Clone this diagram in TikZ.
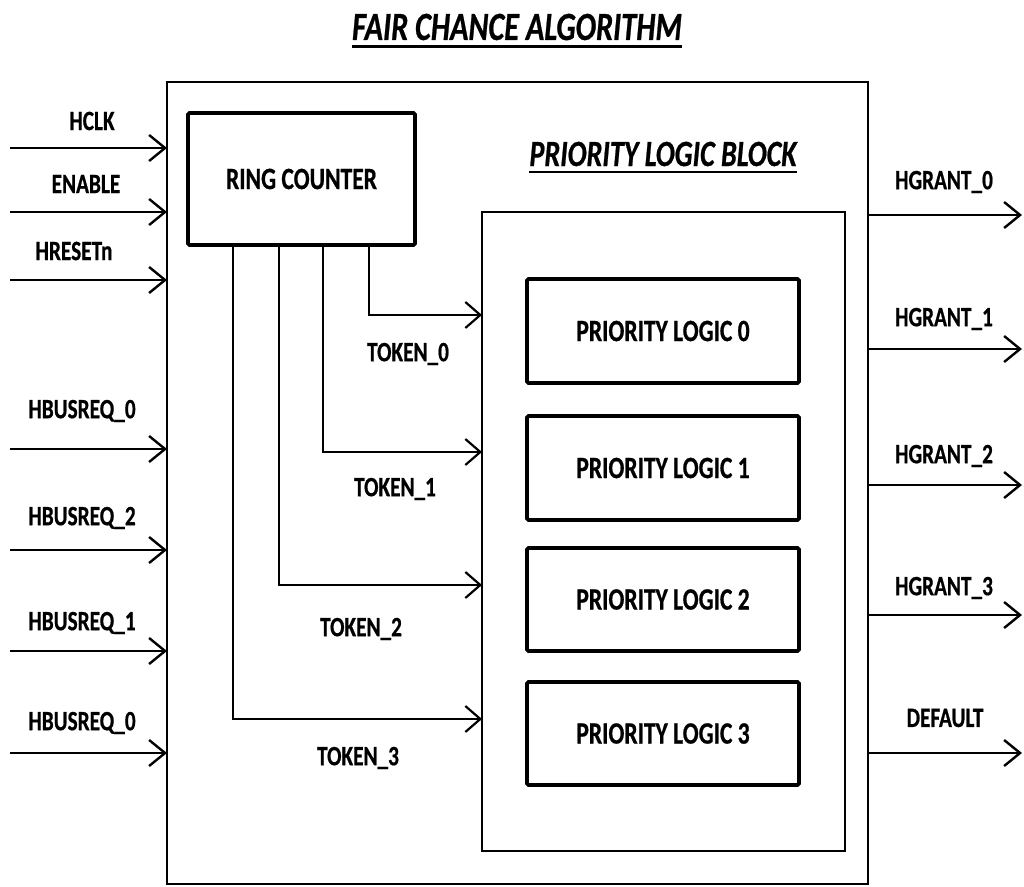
\documentclass[tikz,border=0pt]{standalone}
\usepackage{fontspec}
\setmainfont{Carlito}
\newfontfamily\labfont{Carlito}[FakeStretch=0.76, BoldFeatures={FakeBold=0.6}, BoldItalicFeatures={FakeBold=0.6}]
\usetikzlibrary{arrows.meta}
\begin{document}
\begin{tikzpicture}[x=1pt,y=-1pt,
  lab/.style={font=\labfont\bfseries\fontsize{28}{30}\selectfont, inner sep=0pt},
  boxtxt/.style={font=\labfont\bfseries\fontsize{31}{33}\selectfont},
  thickbox/.style={draw, line width=3.8pt, rounded corners=1.5pt, inner sep=0pt, outer sep=0pt, boxtxt},
  thinbox/.style={draw, line width=2.2pt, inner sep=0pt, outer sep=0pt},
  arr/.style={line width=2.8pt, -{Straight Barb[length=16pt,width=26pt,line width=2.4pt]}},
  tok/.style={line width=2.2pt, -{Straight Barb[length=15pt,width=26pt,line width=2.2pt]}}
]
\useasboundingbox (0,0) rectangle (1024,886);
% title
\node[inner sep=0pt, font=\labfont\bfseries\itshape\fontsize{40}{42}\selectfont] (title) at (517,27) {FAIR CHANCE ALGORITHM};
\draw[line width=3pt] ([yshift=-7pt]title.base west) -- ([yshift=-7pt]title.base east);
% boxes
\node[thinbox, minimum width=701pt, minimum height=802pt] (outer) at (517.5,483) {};
\node[thickbox, minimum width=227pt, minimum height=132pt] (rc) at (301.5,179) {RING COUNTER};
\node[thinbox, minimum width=363pt, minimum height=639pt] (plb) at (663.5,531.5) {};
\node[inner sep=0pt, font=\labfont\bfseries\itshape\fontsize{37}{39}\selectfont] (plbt) at (663,154) {PRIORITY LOGIC BLOCK};
\draw[line width=2.5pt] ([yshift=-6pt]plbt.base west) -- ([yshift=-6pt]plbt.base east);
\node[thickbox, minimum width=272pt, minimum height=104pt] (pl0) at (663,331) {PRIORITY LOGIC 0};
\node[thickbox, minimum width=272pt, minimum height=104pt] (pl1) at (663,468) {PRIORITY LOGIC 1};
\node[thickbox, minimum width=272pt, minimum height=103pt] (pl2) at (663,599.5) {PRIORITY LOGIC 2};
\node[thickbox, minimum width=272pt, minimum height=103pt] (pl3) at (663,733.5) {PRIORITY LOGIC 3};
% tokens
\coordinate (t0) at (369,315);
\coordinate (t1) at (323,452);
\coordinate (t2) at (279,585);
\coordinate (t3) at (233,719);
\draw[tok] (rc.south -| t0) |- (plb.west |- t0);
\draw[tok] (rc.south -| t1) |- (plb.west |- t1);
\draw[tok] (rc.south -| t2) |- (plb.west |- t2);
\draw[tok] (rc.south -| t3) |- (plb.west |- t3);
\node[lab] (tl0) at (408,354) {TOKEN\_0};
\node[lab] (tl1) at (395,489) {TOKEN\_1};
\node[lab] (tl2) at (361,629) {TOKEN\_2};
\node[lab] (tl3) at (358,758) {TOKEN\_3};
% inputs
\coordinate (i1) at (10,148);
\coordinate (i2) at (10,212);
\coordinate (i3) at (10,280);
\coordinate (i4) at (10,449);
\coordinate (i5) at (10,550);
\coordinate (i6) at (10,651);
\coordinate (i7) at (10,753);
\foreach \i in {1,...,7} {\draw[arr] (i\i) -- (outer.west |- i\i);}
\node[lab] (l1) at (92,121) {HCLK};
\node[lab] (l2) at (86,184) {ENABLE};
\node[lab] (l3) at (74,251) {HRESETn};
\node[lab] (l4) at (82,411) {HBUSREQ\_0};
\node[lab] (l5) at (82,518) {HBUSREQ\_2};
\node[lab] (l6) at (82,623) {HBUSREQ\_1};
\node[lab] (l7) at (82,723) {HBUSREQ\_0};
% outputs
\coordinate (o1) at (1022,215);
\coordinate (o2) at (1022,349);
\coordinate (o3) at (1022,485);
\coordinate (o4) at (1022,615);
\coordinate (o5) at (1022,753);
\foreach \i in {1,...,5} {\draw[arr] (outer.east |- o\i) -- (o\i);}
\node[lab] (g1) at (944,182) {HGRANT\_0};
\node[lab] (g2) at (944,319) {HGRANT\_1};
\node[lab] (g3) at (944,456) {HGRANT\_2};
\node[lab] (g4) at (944,588) {HGRANT\_3};
\node[lab] (g5) at (945,718) {DEFAULT};
\end{tikzpicture}
\end{document}
